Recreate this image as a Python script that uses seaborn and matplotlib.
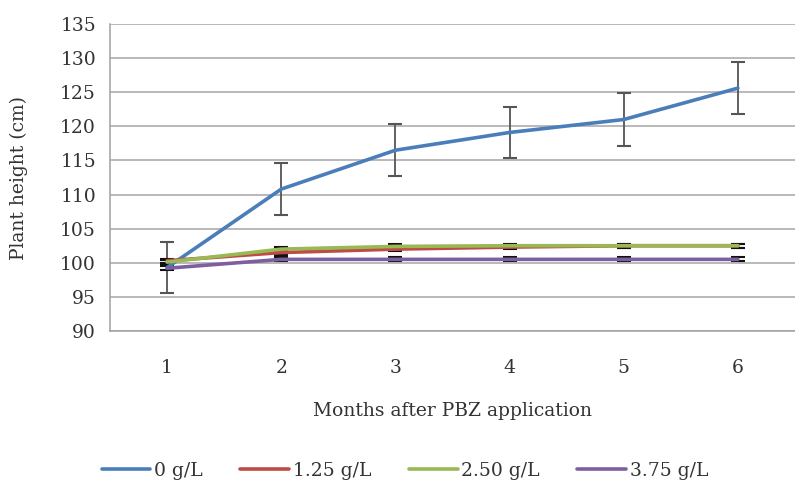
import matplotlib
matplotlib.use("Agg")
import matplotlib.pyplot as plt
import seaborn as sns
import pandas as pd
import numpy as np

months = [1, 2, 3, 4, 5, 6]
series_names = ["0 g/L", "1.25 g/L", "2.50 g/L", "3.75 g/L"]
h_0 = [99.3, 110.8, 116.5, 119.1, 121.0, 125.6]
h_125 = [100.3, 101.5, 102.0, 102.3, 102.5, 102.5]
h_250 = [100.1, 102.0, 102.4, 102.5, 102.5, 102.5]
h_375 = [99.2, 100.5, 100.5, 100.5, 100.5, 100.5]
err_0 = [3.8, 3.8, 3.8, 3.8, 3.9, 3.8]
err_125 = [0.3, 0.3, 0.3, 0.3, 0.3, 0.3]
err_250 = [0.3, 0.3, 0.3, 0.3, 0.3, 0.3]
err_375 = [0.3, 0.3, 0.3, 0.3, 0.3, 0.3]
colors = ["#4A7EBB", "#BE4B48", "#98B954", "#7D5FA0"]
err_colors = ["#555555", "#111111", "#111111", "#111111"]

values = [h_0, h_125, h_250, h_375]
errs = [err_0, err_125, err_250, err_375]

df = pd.DataFrame({
    "Month": months * 4,
    "Height": h_0 + h_125 + h_250 + h_375,
    "Dose": sum([[n] * len(months) for n in series_names], []),
})

sns.set_style("white")
plt.rcParams["font.family"] = ["DejaVu Serif"]
FS = 13.5
TC = "#333333"

fig = plt.figure(figsize=(7.95, 4.9), dpi=100)
ax = fig.add_axes([110 / 795, 1 - 331 / 490, (795 - 110) / 795, (331 - 24) / 490])

for vals, e, ec in zip(values, errs, err_colors):
    ax.errorbar(months, vals, yerr=e, fmt="none", ecolor=ec, elinewidth=1.3,
                capsize=5, capthick=1.5, zorder=2)

sns.lineplot(data=df, x="Month", y="Height", hue="Dose", hue_order=series_names,
             palette=colors, linewidth=2.6, ax=ax, zorder=3, legend=True)

ax.set_xlim(0.5, 6.5)
ax.set_ylim(90, 135)
ax.set_yticks(np.arange(90, 136, 5))
ax.set_xticks(months)
ax.set_xticks(np.arange(0.5, 6.6, 1), minor=True)
ax.tick_params(axis="x", which="major", length=0, pad=20, labelsize=FS, labelcolor=TC)
ax.tick_params(axis="x", which="minor", length=6, color="#A0A0A0", width=1, direction="out")
ax.tick_params(axis="y", which="major", length=6, color="#A0A0A0", width=1, direction="out",
               labelsize=FS, labelcolor=TC, pad=4)
ax.grid(axis="y", color="#A6A6A6", linewidth=1.1)
ax.grid(axis="x", visible=False)
ax.set_axisbelow(True)
for s in ["top", "right"]:
    ax.spines[s].set_visible(False)
for s in ["left", "bottom"]:
    ax.spines[s].set_color("#A0A0A0")
    ax.spines[s].set_linewidth(1.1)

ax.set_xlabel("Months after PBZ application", fontsize=FS, color=TC, labelpad=18)
ax.set_ylabel("Plant height (cm)", fontsize=FS, color=TC, labelpad=0)
ax.yaxis.set_label_coords(-(110 - 28) / 685, 0.5)

handles, labels = ax.get_legend_handles_labels()
ax.legend(handles, labels, loc="center", bbox_to_anchor=((405 - 110) / 685, -0.455),
          ncol=4, frameon=False, fontsize=FS, handlelength=2.6, handletextpad=0.2,
          columnspacing=2.0, labelcolor=TC)

fig.savefig("out.png", dpi=100)
